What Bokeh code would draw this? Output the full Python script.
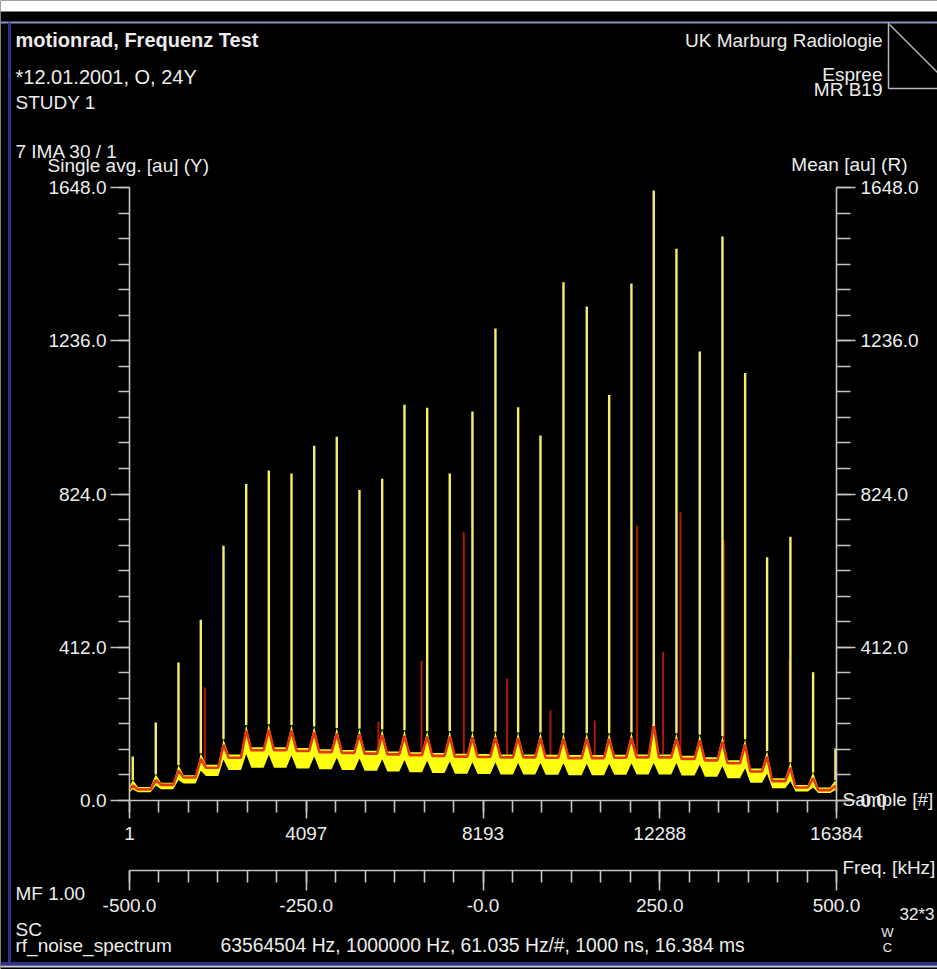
from bokeh.plotting import figure
from bokeh.models import (Range1d, LinearAxis, FixedTicker, PrintfTickFormatter, Label, Arrow,
                          BoxAnnotation)
from bokeh.embed import file_html
from bokeh.resources import INLINE

# ---------------- data ----------------
x_ticks = [1, 4097, 8193, 12288, 16384]
freq_ticks = [-500.0, -250.0, 0.0, 250.0, 500.0]
y_ticks = [0.0, 412.0, 824.0, 1236.0, 1648.0]

# spectral lines: sample index and single-average height
peak_sample = [77, 610, 1136, 1653, 2179, 2705, 3229, 3755, 4281, 4804, 5330, 5856,
               6373, 6899, 7422, 7948, 8481, 9007, 9524, 10057, 10597, 11116, 11632,
               12149, 12675, 13215, 13741, 14267, 14776, 15316, 15842, 16359]
peak_single = [118, 210, 371, 486, 685, 851, 887, 879, 954, 978, 835, 865, 1064, 1056,
               879, 1046, 1269, 1057, 981, 1393, 1328, 1090, 1390, 1640, 1483, 1207,
               1516, 1149, 654, 709, 345, 140]

# noise floor between the lines
floor_sample = [1, 343, 873, 1394, 1916, 2442, 2967, 3492, 4018, 4542, 5067, 5593,
                6114, 6636, 7160, 7685, 8214, 8744, 9265, 9790, 10327, 10856, 11374,
                11890, 12412, 12945, 13478, 14004, 14521, 15046, 15579, 16100, 16384]
floor_mean = [30, 30, 42, 62, 88, 115, 135, 135, 133, 130, 128, 126, 124, 122, 120, 118,
              117, 116, 116, 115, 114, 114, 115, 116, 116, 112, 108, 100, 78, 52, 35, 28, 27]
floor_single_hi = [36, 36, 48, 68, 96, 124, 143, 143, 141, 138, 136, 134, 132, 130, 128,
                   126, 125, 124, 124, 123, 122, 122, 123, 124, 124, 120, 116, 108, 86,
                   60, 42, 35, 33]
floor_single_lo = [22, 22, 30, 46, 66, 82, 88, 88, 86, 84, 82, 80, 78, 76, 74, 72, 71,
                   70, 70, 69, 68, 68, 69, 70, 70, 67, 64, 60, 48, 33, 24, 20, 19]

# floor level right at the foot of each line
foot_mean = [40, 55, 80, 112, 150, 188, 190, 188, 184, 180, 178, 176, 174, 172, 172, 170,
             170, 168, 168, 166, 166, 166, 168, 205, 166, 162, 158, 150, 118, 88, 60, 40]
foot_single_hi = [55, 70, 95, 127, 165, 203, 205, 203, 199, 195, 193, 191, 189, 187, 187,
                  185, 185, 183, 183, 181, 181, 181, 183, 200, 181, 177, 173, 165, 133,
                  103, 75, 55]
foot_single_lo = [30, 40, 55, 80, 110, 125, 123, 121, 118, 115, 113, 111, 109, 107, 105,
                  103, 102, 101, 101, 100, 99, 99, 100, 101, 101, 97, 93, 87, 72, 52,
                  35, 28]

# isolated spikes of the mean trace
mean_spike_sample = [1746, 5770, 6767, 7747, 8752, 9755, 10782, 11764, 12367, 12768, 13771, 15300]
mean_spike_value = [304, 212, 376, 721, 328, 242, 215, 739, 399, 775, 699, 376]

# ---------------- layout ----------------
W, H = 937, 969
FX0, FX1 = 129, 836      # plot box in canvas pixels
FY0, FY1 = 187, 800
XMIN, XMAX = 1, 16384
YMIN, YMAX = 0, 1648
FMIN, FMAX = -500.0, 500.0

AX = "#c4c4c4"
TXT = "#ececec"
FONT = "Liberation Sans"


def dx(px):
    return XMIN + (px - FX0) / (FX1 - FX0) * (XMAX - XMIN)


def dy(py):
    return YMIN + (FY1 - py) / (FY1 - FY0) * (YMAX - YMIN)


def fq(px):
    return FMIN + (px - FX0) / (FX1 - FX0) * (FMAX - FMIN)


p = figure(width=W, height=H, x_range=Range1d(dx(0), dx(W)), y_range=Range1d(dy(H), dy(0)),
           output_backend="svg", toolbar_location=None,
           x_axis_location=None, y_axis_location=None,
           min_border_left=0, min_border_right=0, min_border_top=0, min_border_bottom=0,
           background_fill_color="black", border_fill_color="black",
           outline_line_color=None)
p.grid.visible = False
p.extra_x_ranges = {"freq": Range1d(fq(0), fq(W))}


def style(ax, tick_out, minor_out, standoff):
    ax.axis_line_color = AX
    ax.axis_line_width = 1.6
    ax.major_tick_line_color = AX
    ax.minor_tick_line_color = AX
    ax.major_tick_line_width = 1.6
    ax.minor_tick_line_width = 1.6
    ax.major_tick_in = 0
    ax.major_tick_out = tick_out
    ax.minor_tick_in = 0
    ax.minor_tick_out = minor_out
    ax.major_label_standoff = standoff
    ax.major_label_text_color = TXT
    ax.major_label_text_font = FONT
    ax.major_label_text_font_size = "19px"


y_minor = [YMAX * k / 24 for k in range(25)]
x_minor = [XMIN + (XMAX - XMIN) * k / 24 for k in range(25)]
f_minor = [FMIN + (FMAX - FMIN) * k / 24 for k in range(25)]

ly = LinearAxis(ticker=FixedTicker(ticks=y_ticks, minor_ticks=y_minor),
                formatter=PrintfTickFormatter(format="%.1f"),
                fixed_location=XMIN, bounds=(YMIN, YMAX))
style(ly, 19, 11, 4)
p.add_layout(ly, "left")

ry = LinearAxis(ticker=FixedTicker(ticks=y_ticks, minor_ticks=y_minor),
                formatter=PrintfTickFormatter(format="%.1f"),
                fixed_location=XMAX, bounds=(YMIN, YMAX))
style(ry, 19, 14, 5)
p.add_layout(ry, "right")

sx = LinearAxis(ticker=FixedTicker(ticks=x_ticks, minor_ticks=x_minor),
                formatter=PrintfTickFormatter(format="%d"),
                fixed_location=YMIN, bounds=(XMIN, XMAX))
style(sx, 18, 12, 8)
p.add_layout(sx, "below")

fx = LinearAxis(x_range_name="freq", ticker=FixedTicker(ticks=freq_ticks, minor_ticks=f_minor),
                formatter=PrintfTickFormatter(format="%.1f"),
                major_label_overrides={0: "-0.0"},
                fixed_location=dy(870), bounds=(FMIN, FMAX))
style(fx, 20, 12, 8)
p.add_layout(fx, "below")

# ---------------- traces ----------------
bx, b_mean, b_hi, b_lo = [], [], [], []
SH = 120
for i in range(len(floor_sample)):
    bx.append(floor_sample[i]); b_mean.append(floor_mean[i])
    b_hi.append(floor_single_hi[i]); b_lo.append(floor_single_lo[i])
    if i < len(peak_sample):
        s = peak_sample[i]
        if s - SH > floor_sample[i]:
            bx.append(s - SH); b_mean.append(floor_mean[i])
            b_hi.append(floor_single_hi[i]); b_lo.append(floor_single_lo[i])
        bx.append(s); b_mean.append(foot_mean[i])
        b_hi.append(foot_single_hi[i]); b_lo.append(foot_single_lo[i])
        if s + SH < floor_sample[i + 1]:
            bx.append(s + SH); b_mean.append(floor_mean[i + 1])
            b_hi.append(floor_single_hi[i + 1]); b_lo.append(floor_single_lo[i + 1])

p.segment(x0=mean_spike_sample, y0=[100] * len(mean_spike_sample), x1=mean_spike_sample,
          y1=mean_spike_value, line_color="#b01808", line_width=2)
p.varea(x=bx, y1=b_lo, y2=b_hi, fill_color="#ffff10")
p.line(bx, b_mean, line_color="#e2380e", line_width=2.6)
p.segment(x0=peak_sample, y0=foot_single_hi, x1=peak_sample, y1=peak_single,
          line_color="#f4f06a", line_width=2.4)

# ---------------- texts ----------------
def txt(s, px, py, align="left", size="19px", bold=False):
    p.add_layout(Label(x=dx(px), y=dy(py), text=s, text_align=align, text_baseline="middle",
                       text_color=TXT, text_font=FONT, text_font_size=size,
                       text_font_style="bold" if bold else "normal"))


txt("motionrad, Frequenz Test", 15, 39, size="20px", bold=True)
txt("*12.01.2001, O, 24Y", 15, 76, size="20px")
txt("STUDY 1", 15, 102)
txt("7 IMA 30 / 1", 15, 151)
txt("Single avg. [au] (Y)", 47, 165)
txt("UK Marburg Radiologie", 882, 40, align="right")
txt("Espree", 882, 74, align="right")
txt("MR B19", 882, 89, align="right")
txt("Mean [au] (R)", 907, 164, align="right")
txt("Sample [#]", 842, 799)
txt("Freq. [kHz]", 842, 867)
txt("MF 1.00", 15, 893)
txt("SC", 15, 929)
txt("rf_noise_spectrum", 15, 945)
txt("63564504 Hz, 1000000 Hz, 61.035 Hz/#, 1000 ns, 16.384 ms", 220, 945, size="19.3px")
txt("32*3", 899, 914, size="17px")
txt("W", 887, 932, align="center", size="13px")
txt("C", 887, 947, align="center", size="13px")

# ---------------- frame decorations ----------------
p.add_layout(BoxAnnotation(left=dx(0), right=dx(W), top=dy(0), bottom=dy(11),
                           fill_color="white", fill_alpha=1.0, line_color=None))


def seg(px0, py0, px1, py1, color, width=1.5):
    p.add_layout(Arrow(end=None, x_start=dx(px0), y_start=dy(py0), x_end=dx(px1), y_end=dy(py1),
                       line_color=color, line_width=width))


seg(0, 22, W, 22, "#8a90c0", 2)
seg(9, 22, 9, 963, "#2a3490", 3)
seg(0, 963, W, 963, "#2a3490", 3)
seg(0, 966, W, 966, "#c8c8d8", 2)
seg(888, 22, 888, 88, "#b8b8b8", 1.5)
seg(888, 88, W, 88, "#b8b8b8", 1.5)
seg(889, 24, W, 72, "#b8b8b8", 1.5)

open("out.html", "w").write(file_html(p, INLINE))
